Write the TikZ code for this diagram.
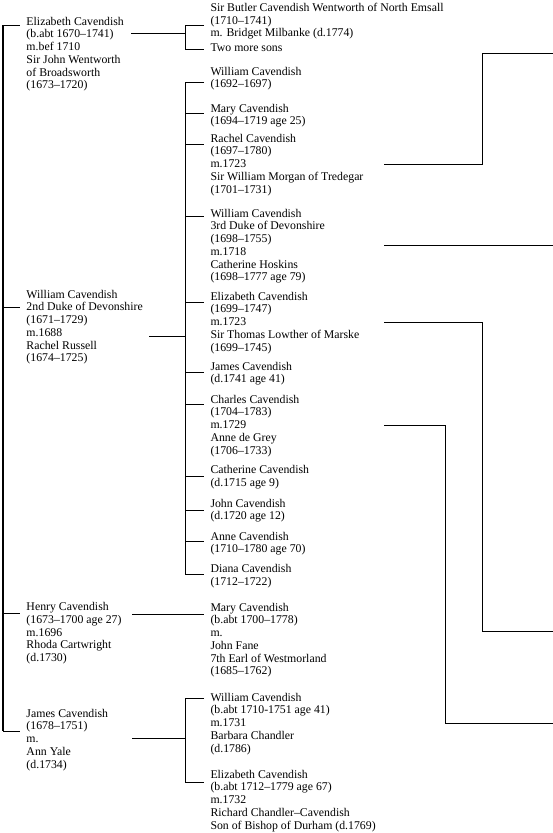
\documentclass[tikz,border=0pt]{standalone}
\usepackage{fontspec}
\setmainfont{Liberation Serif}
\begin{document}
\begin{tikzpicture}[x=1pt, y=-1pt, line width=1pt,
		person/.style={anchor=north west, align=left, inner xsep=6pt, inner ysep=0pt,
			font=\fontsize{11.8}{12.7}\selectfont},
		trunk/.style={line width=1.4pt}]
		\useasboundingbox (0,0) rectangle (553,833);
		% ---- first generation ----
		\node[person] (eliz) at (20,16.6) {Elizabeth Cavendish\\(b.abt 1670–1741)\\m.bef 1710\\Sir John Wentworth\\of Broadsworth\\(1673–1720)};
		\node[person] (duke2) at (20,289.6) {William Cavendish\\2nd Duke of Devonshire\\(1671–1729)\\m.1688\\Rachel Russell\\(1674–1725)};
		\node[person] (henry) at (20,602.1) {Henry Cavendish\\(1673–1700 age 27)\\m.1696\\Rhoda Cartwright\\(d.1730)};
		\node[person] (jamesA) at (20,708.6) {James Cavendish\\(1678–1751)\\m.\\Ann Yale\\(d.1734)};
		% ---- second generation ----
		\node[person] (butler) at (204,2.6) {Sir Butler Cavendish Wentworth of North Emsall\\(1710–1741)\\m. Bridget Milbanke (d.1774)};
		\node[person] (twosons) at (204,43.6) {Two more sons};
		\node[person] (williamA) at (204,66.6) {William Cavendish\\(1692–1697)};
		\node[person] (maryA) at (204,103.6) {Mary Cavendish\\(1694–1719 age 25)};
		\node[person] (rachel) at (204,133.6) {Rachel Cavendish\\(1697–1780)\\m.1723\\Sir William Morgan of Tredegar\\(1701–1731)};
		\node[person] (duke3) at (204,208.6) {William Cavendish\\3rd Duke of Devonshire\\(1698–1755)\\m.1718\\Catherine Hoskins\\(1698–1777 age 79)};
		\node[person] (elizL) at (204,291.6) {Elizabeth Cavendish\\(1699–1747)\\m.1723\\Sir Thomas Lowther of Marske\\(1699–1745)};
		\node[person] (jamesB) at (204,361.6) {James Cavendish\\(d.1741 age 41)};
		\node[person] (charles) at (204,394.6) {Charles Cavendish\\(1704–1783)\\m.1729\\Anne de Grey\\(1706–1733)};
		\node[person] (catherine) at (204,465.3) {Catherine Cavendish\\(d.1715 age 9)};
		\node[person] (john) at (204,498.6) {John Cavendish\\(d.1720 age 12)};
		\node[person] (anne) at (204,531.6) {Anne Cavendish\\(1710–1780 age 70)};
		\node[person] (diana) at (204,564.3) {Diana Cavendish\\(1712–1722)};
		\node[person] (maryB) at (204,602.6) {Mary Cavendish\\(b.abt 1700–1778)\\m.\\John Fane\\7th Earl of Westmorland\\(1685–1762)};
		\node[person] (williamB) at (204,692.6) {William Cavendish\\(b.abt 1710-1751 age 41)\\m.1731\\Barbara Chandler\\(d.1786)};
		\node[person] (elizB) at (204,769.6) {Elizabeth Cavendish\\(b.abt 1712–1779 age 67)\\m.1732\\Richard Chandler–Cavendish\\Son of Bishop of Durham (d.1769)};
		% ---- trunk ----
		\coordinate (trunkTop) at (3,25);
		\coordinate (trunkBot) at (3,731);
		\draw[trunk] (trunkTop) -- (trunkBot);
		\foreach \who/\y in {eliz/25, duke2/307, henry/613, jamesA/731}
			\draw (trunkTop |- 0,\y) -- (\who.west |- 0,\y);
		% ---- brackets of children ----
		\coordinate (hubE) at (185,33);
		\coordinate (hubW) at (185,336);
		\coordinate (hubJ) at (185,738);
		\draw (131,33) -- (hubE);
		\draw (149,336) -- (hubW);
		\draw (132,738) -- (hubJ);
		\draw (132,614) -- (maryB.west |- 0,614);
		\draw (butler.west |- 0,25) -- (hubE |- 0,25) -- (hubE |- 0,49) -- (twosons.west |- 0,49);
		\draw (williamA.west |- 0,82) -- (hubW |- 0,82) -- (hubW |- 0,574) -- (diana.west |- 0,574);
		\foreach \who/\y in {maryA/113, rachel/144, duke3/216, elizL/302, jamesB/372,
			charles/404, catherine/476, john/510, anne/541}
			\draw (hubW |- 0,\y) -- (\who.west |- 0,\y);
		\draw (williamB.west |- 0,698) -- (hubJ |- 0,698) -- (hubJ |- 0,782) -- (elizB.west |- 0,782);
		% ---- lines running off the page ----
		\coordinate (offR) at (553,53);
		\coordinate (offD) at (553,245);
		\coordinate (offE) at (553,631);
		\coordinate (offC) at (553,723);
		\draw (384,164) -| (offR -| 482,0) -- (offR);
		\draw (384,245) -- (offD);
		\draw (384,322) -| (offE -| 482,0) -- (offE);
		\draw (384,425) -| (offC -| 445,0) -- (offC);
	\end{tikzpicture}
\end{document}
